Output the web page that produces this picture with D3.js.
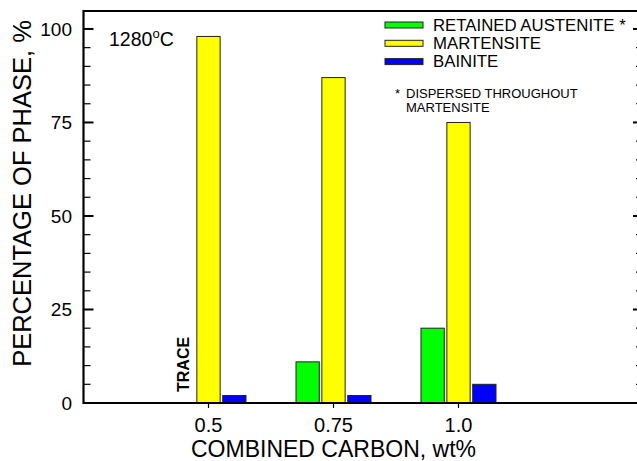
<!DOCTYPE html>
<html><head><meta charset="utf-8">
<script src="https://cdn.jsdelivr.net/npm/d3@7"></script>
<style>body{margin:0;background:#fff}svg{display:block}text{font-family:"Liberation Sans",Arial,sans-serif}</style>
</head><body><svg id="c" width="637" height="461"></svg>
<script>
const categories = [0.5, 0.75, 1.0];
const categoryLabels = ["0.5", "0.75", "1.0"];
const series = ["RETAINED AUSTENITE *", "MARTENSITE", "BAINITE"];
const retainedAustenite = [0, 11, 20];
const martensite = [98, 87, 75];
const bainite = [2, 2, 5];
const colors = ["#00ff00", "#ffff00", "#0000ff"];
const yMajorTicks = [0, 25, 50, 75, 100];
const yMinorTicks = [5,10,15,20,30,35,40,45,55,60,65,70,80,85,90,95];
const values = [retainedAustenite, martensite, bainite];

const svg = d3.select("#c");
const L = 83.5, R = 643, T = 11, B = 403;
const x = d3.scaleLinear().domain([0.25, 1.369]).range([L, R]);
const y = d3.scaleLinear().domain([0, 104.8]).range([B, T]);
const sub = d3.scaleBand().domain(series).range([-37.5, 37.5]).paddingInner(0.1);

// bars
series.forEach((s, si) => {
  svg.append("g").selectAll("rect").data(categories.map((c, i) => ({c, v: values[si][i]})).filter(d => d.v > 0))
    .join("rect")
    .attr("x", d => x(d.c) + sub(s))
    .attr("width", sub.bandwidth())
    .attr("y", d => y(d.v))
    .attr("height", d => y(0) - y(d.v))
    .attr("fill", colors[si])
    .attr("stroke", "#222").attr("stroke-width", 1);
});

// y ticks both sides (inward)
const tk = svg.append("g").attr("stroke", "#000");
tk.selectAll("line.lmaj").data(yMajorTicks).join("line").attr("class", "lmaj")
  .attr("x1", L).attr("x2", L + 10).attr("y1", d => y(d)).attr("y2", d => y(d)).attr("stroke-width", 2);
tk.selectAll("line.lmin").data(yMinorTicks).join("line").attr("class", "lmin")
  .attr("x1", L).attr("x2", L + 7).attr("y1", d => y(d)).attr("y2", d => y(d)).attr("stroke-width", 1.2);
tk.selectAll("line.rmaj").data(yMajorTicks).join("line").attr("class", "rmaj")
  .attr("x1", R).attr("x2", R - 10).attr("y1", d => y(d)).attr("y2", d => y(d)).attr("stroke-width", 2);
tk.selectAll("line.rmin").data(yMinorTicks).join("line").attr("class", "rmin")
  .attr("x1", R).attr("x2", R - 7).attr("y1", d => y(d)).attr("y2", d => y(d)).attr("stroke-width", 1.2);
svg.append("g").selectAll("text").data(yMajorTicks).join("text")
  .attr("x", 72).attr("y", d => y(d) + 7).attr("text-anchor", "end")
  .attr("font-size", 19).text(d => d);

// bottom axis
tk.selectAll("line.xt").data(categories).join("line").attr("class", "xt")
  .attr("x1", d => x(d)).attr("x2", d => x(d)).attr("y1", B).attr("y2", B + 5).attr("stroke-width", 1.2);
svg.append("g").selectAll("text").data(categories).join("text")
  .attr("x", d => x(d)).attr("y", 432).attr("text-anchor", "middle")
  .attr("font-size", 20).text((d, i) => categoryLabels[i]);

// frame
svg.append("path").attr("d", `M${R},${T}H${L}V${B}H${R}`).attr("fill", "none")
  .attr("stroke", "#000").attr("stroke-width", 2.2);

// titles
svg.append("text").attr("x", x(0.75)).attr("y", 457).attr("text-anchor", "middle")
  .attr("font-size", 23).text("COMBINED CARBON, wt%");
svg.append("text").attr("transform", `translate(31,${(15+372)/2}) rotate(-90)`)
  .attr("text-anchor", "middle").attr("font-size", 25.5).text("PERCENTAGE OF PHASE, %");

// temperature label
const tl = svg.append("text").attr("x", 109).attr("y", 46).attr("font-size", 19.5);
tl.append("tspan").text("1280");
tl.append("tspan").attr("font-size", 13).attr("dy", -8).text("o");
tl.append("tspan").attr("dy", 8).text("C");

// trace label
svg.append("text").attr("transform", `translate(${x(0.5) + sub(series[0]) + sub.bandwidth()/2 + 6},392) rotate(-90)`)
  .attr("font-size", 16).attr("font-weight", "bold").text("TRACE");

// legend
const lg = svg.append("g");
series.forEach((s, i) => {
  const cy = 25 + i * 18.3;
  lg.append("rect").attr("x", 385).attr("y", cy - 3).attr("width", 38).attr("height", 6)
    .attr("fill", colors[i]).attr("stroke", "#222").attr("stroke-width", 1);
  lg.append("text").attr("x", 433).attr("y", cy + 5.5).attr("font-size", 16.8).text(s);
});
lg.append("text").attr("x", 395).attr("y", 98).attr("font-size", 13).text("*");
lg.append("text").attr("x", 406).attr("y", 98).attr("font-size", 13).text("DISPERSED THROUGHOUT");
lg.append("text").attr("x", 406).attr("y", 112).attr("font-size", 13).text("MARTENSITE");
</script></body></html>
